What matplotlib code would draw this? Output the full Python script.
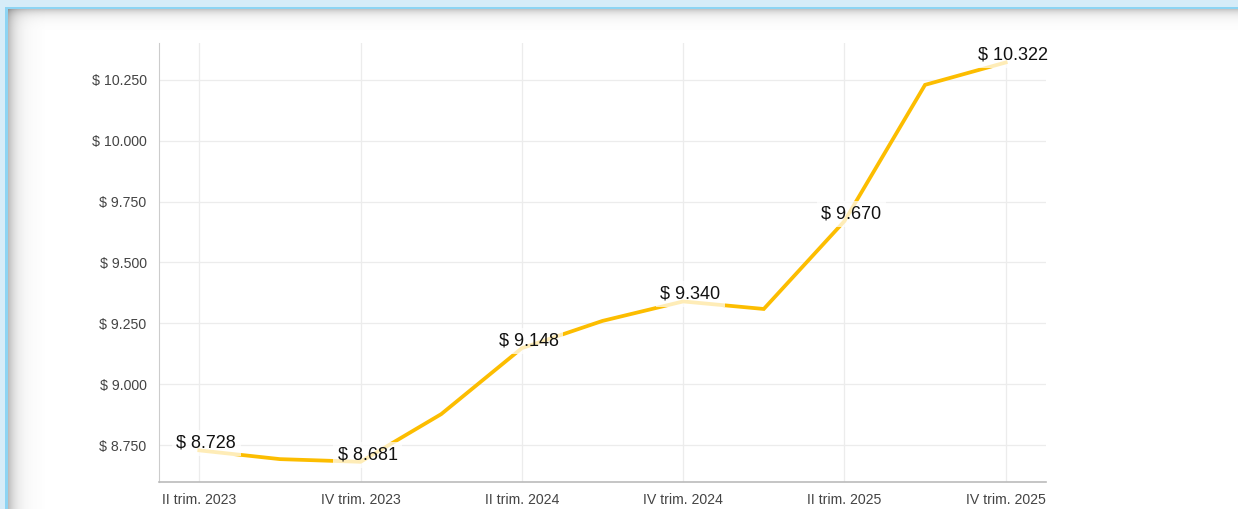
import numpy as np
import matplotlib
matplotlib.use("Agg")
import matplotlib.pyplot as plt
from matplotlib.ticker import FuncFormatter, FixedLocator

plt.rcParams['font.family'] = ['Liberation Sans', 'DejaVu Sans']

# quarterly values (pesos)
quarters = ["II trim. 2023", "III trim. 2023", "IV trim. 2023",
            "I trim. 2024", "II trim. 2024", "III trim. 2024", "IV trim. 2024",
            "I trim. 2025", "II trim. 2025", "III trim. 2025", "IV trim. 2025"]
values = [8728, 8692, 8681, 8877, 9148, 9260, 9340, 9309, 9670, 10230, 10322]
yticks = [8750, 9000, 9250, 9500, 9750, 10000, 10250]


def money(v, pos=None):
    return "$ " + f"{v:,.0f}".replace(",", ".")


W, H = 1238, 509
fig = plt.figure(figsize=(W / 100, H / 100), dpi=100)

# page background: light blue frame with soft inner shadow
bg = np.ones((H, W, 3))
light = np.array([214, 236, 248]) / 255
edge = np.array([141, 212, 243]) / 255
for r in range(9, 30):
    a = 0.22 * np.exp(-(r - 9) / 5.0)
    bg[r, :] *= (1 - a)
for c in range(8, 45):
    a = 0.26 * np.exp(-(c - 8) / 8.0)
    bg[9:, c] *= (1 - a)
bg[:7, :] = light
bg[7:9, :] = edge
bg[:, :5] = light
bg[7:, 5:8] = edge
bg[:7, :5] = light
fig.figimage(bg, 0, 0, zorder=0)

ax = fig.add_axes([159 / W, 1 - 482 / H, (1046 - 159) / W, (482 - 43) / H])
ax.set_facecolor('none')
ax.set_zorder(2)

x = np.arange(len(values))
ax.plot(x, values, color='#fcbd00', lw=2.7, solid_joinstyle='miter', zorder=3)

for i in range(0, len(values), 2):
    ax.annotate(money(values[i]), (x[i], values[i]), xytext=(7, 7),
                textcoords='offset pixels', ha='center', va='center',
                fontsize=13, color='#111111', zorder=4,
                bbox=dict(boxstyle='square,pad=0.25', fc='white', ec='none', alpha=0.72))

ax.set_xlim(-0.5, 10.5)
ax.set_ylim(8598, 10402)
ax.xaxis.set_major_locator(FixedLocator(x[::2]))
ax.set_xticklabels(quarters[::2])
ax.yaxis.set_major_locator(FixedLocator(yticks))
ax.yaxis.set_major_formatter(FuncFormatter(money))
ax.tick_params(length=0, labelsize=10.2, labelcolor='#444444')
ax.tick_params(axis='y', pad=9)
ax.tick_params(axis='x', pad=8)
ax.grid(True, color='#ececec', lw=0.9)
ax.set_axisbelow(True)
for s in ['top', 'right']:
    ax.spines[s].set_visible(False)
ax.spines['left'].set_color('#cccccc')
ax.spines['bottom'].set_color('#bbbbbb')
ax.spines['bottom'].set_linewidth(1.2)

fig.savefig("out.png", dpi=100)
